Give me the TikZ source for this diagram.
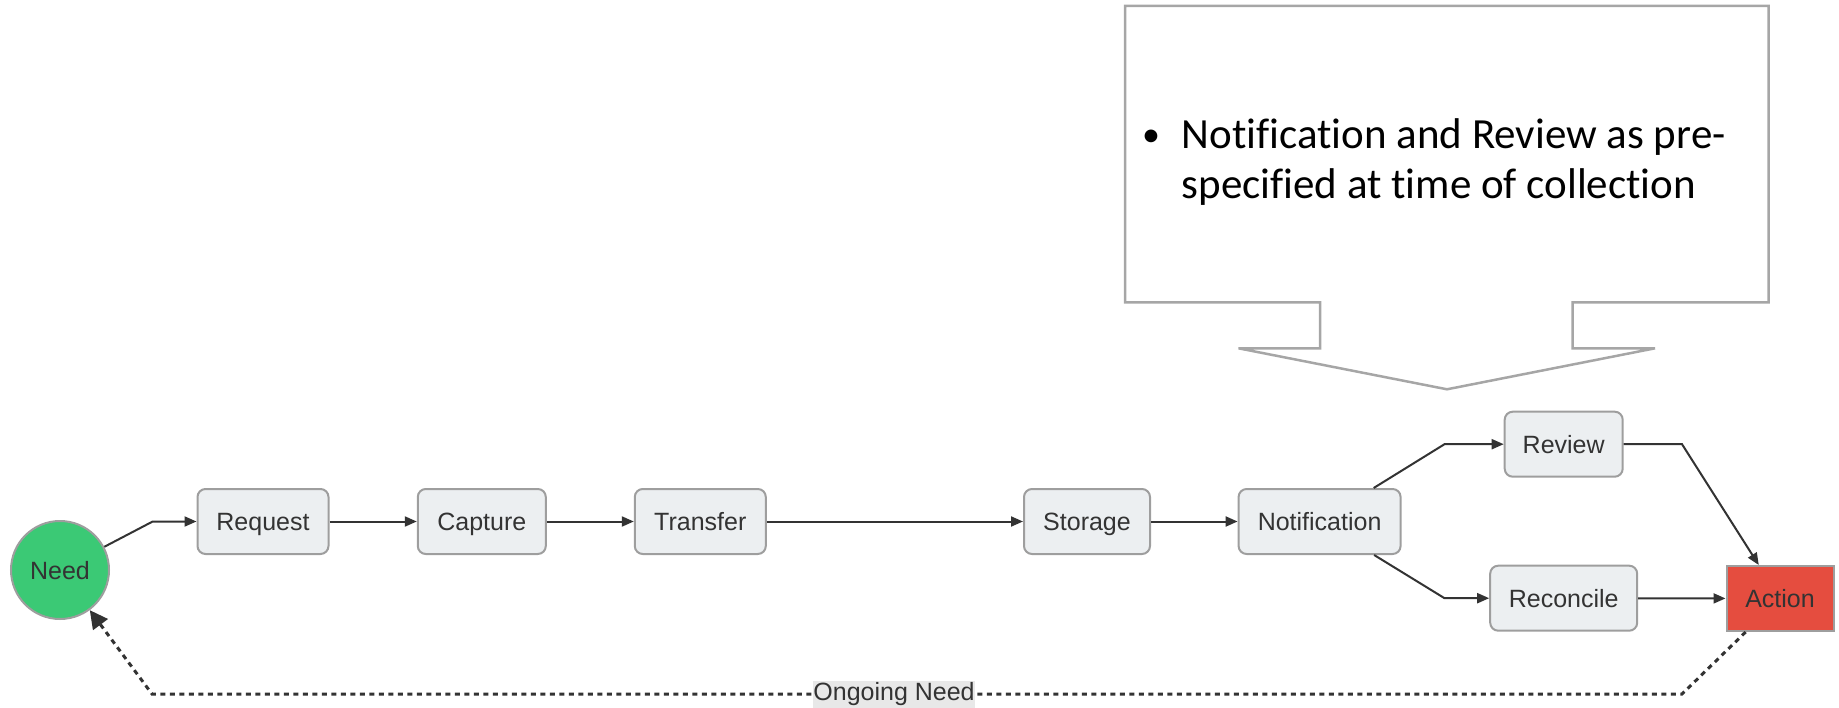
\documentclass[tikz,border=0pt]{standalone}
\usepackage{fontspec}
\setmainfont{Liberation Sans}
\newfontfamily\calloutfont[Ligatures=NoCommon]{Carlito}
\usetikzlibrary{arrows.meta}
\definecolor{boxfill}{RGB}{236,239,241}
\definecolor{boxborder}{RGB}{158,158,158}
\definecolor{txt}{RGB}{51,51,51}
\definecolor{linec}{RGB}{51,51,51}
\definecolor{needgreen}{RGB}{59,201,117}
\definecolor{actionred}{RGB}{229,77,63}
\definecolor{calloutgray}{RGB}{166,166,166}
\definecolor{labelbg}{RGB}{232,232,232}
\begin{document}
\begin{tikzpicture}[x=1pt,y=-1pt,
  nodefont/.style={font=\fontsize{25}{30}\selectfont, text height=18pt, text depth=0pt},
  box/.style={nodefont, draw=boxborder, line width=2pt, fill=boxfill, rounded corners=8pt,
    minimum height=65pt, text=txt, inner sep=0pt},
  conn/.style={draw=linec, line width=2pt, -{Triangle[length=12pt,width=10pt]}},
  loopline/.style={draw=linec, line width=3pt, dash pattern=on 5pt off 4.5pt,
    -{Triangle[length=18pt,width=18pt]}},
  looplabel/.style={font=\fontsize{25}{30}\selectfont, fill=labelbg, text=txt, inner xsep=0pt, inner ysep=0pt,
    text height=20pt, text depth=7pt},
  callout/.style={draw=calloutgray, line width=2.5pt},
  callouttext/.style={font=\calloutfont\fontsize{43}{50}\selectfont, text=black, inner sep=0pt, anchor=base west}
]
\useasboundingbox (0,0) rectangle (1839,708);

% callout
\draw[callout] (1125,6) -- (1768.5,6) -- (1768.5,302.5) -- (1572.5,302.5) -- (1572.5,348.3)
  -- (1655,348.3) -- (1447,389.3) -- (1238.5,348.3) -- (1320,348.3) -- (1320,302.5)
  -- (1125,302.5) -- cycle;
\node[callouttext, font=\calloutfont\fontsize{36}{50}\selectfont] (bullet) at (1142,147) {•};
\node[callouttext] (line1) at (1181.5,149) {Notification and Review as pre-};
\node[callouttext] (line2) at (1181.5,199) {specified at time of collection};

% nodes
\node[nodefont, circle, draw=boxborder, line width=2pt, fill=needgreen, text=txt,
  minimum size=98pt, inner sep=0pt] (need) at (60,570) {Need};
\node[box, minimum width=131pt] (request) at (263,521.5) {Request};
\node[box, minimum width=128pt] (capture) at (481.8,521.5) {Capture};
\node[box, minimum width=131pt] (transfer) at (700.3,521.5) {Transfer};
\node[box, minimum width=126pt] (storage) at (1087,521.5) {Storage};
\node[box, minimum width=162pt] (notification) at (1319.6,521.5) {Notification};
\node[box, minimum width=118pt] (review) at (1563.7,444.2) {Review};
\node[box, minimum width=147pt] (reconcile) at (1563.7,598.2) {Reconcile};
\node[nodefont, draw=boxborder, line width=2pt, fill=actionred, text=txt,
  minimum width=107pt, minimum height=65pt, inner sep=0pt] (action) at (1780,598.5) {Action};

% bend points
\coordinate (b0) at (152.7,521.5);
\coordinate (b1) at (1444.5,444.2);
\coordinate (b2) at (1444.5,598.2);
\coordinate (b3) at (1682,444.2);
\coordinate (c1) at (1682,694);
\coordinate (c2) at (152,694);

% connectors
\draw[conn] (need) -- (b0) -- (request);
\draw[conn] (request) -- (capture);
\draw[conn] (capture) -- (transfer);
\draw[conn] (transfer) -- (storage);
\draw[conn] (storage) -- (notification);
\draw[conn] (notification) -- (b1) -- (review);
\draw[conn] (notification) -- (b2) -- (reconcile);
\draw[conn] (review) -- (b3) -- (action);
\draw[conn] (reconcile) -- (action);

\draw[loopline] (action) -- (c1) -- node[looplabel, pos=0.515] (ongoing) {Ongoing Need} (c2) -- (need);
\end{tikzpicture}
\end{document}
